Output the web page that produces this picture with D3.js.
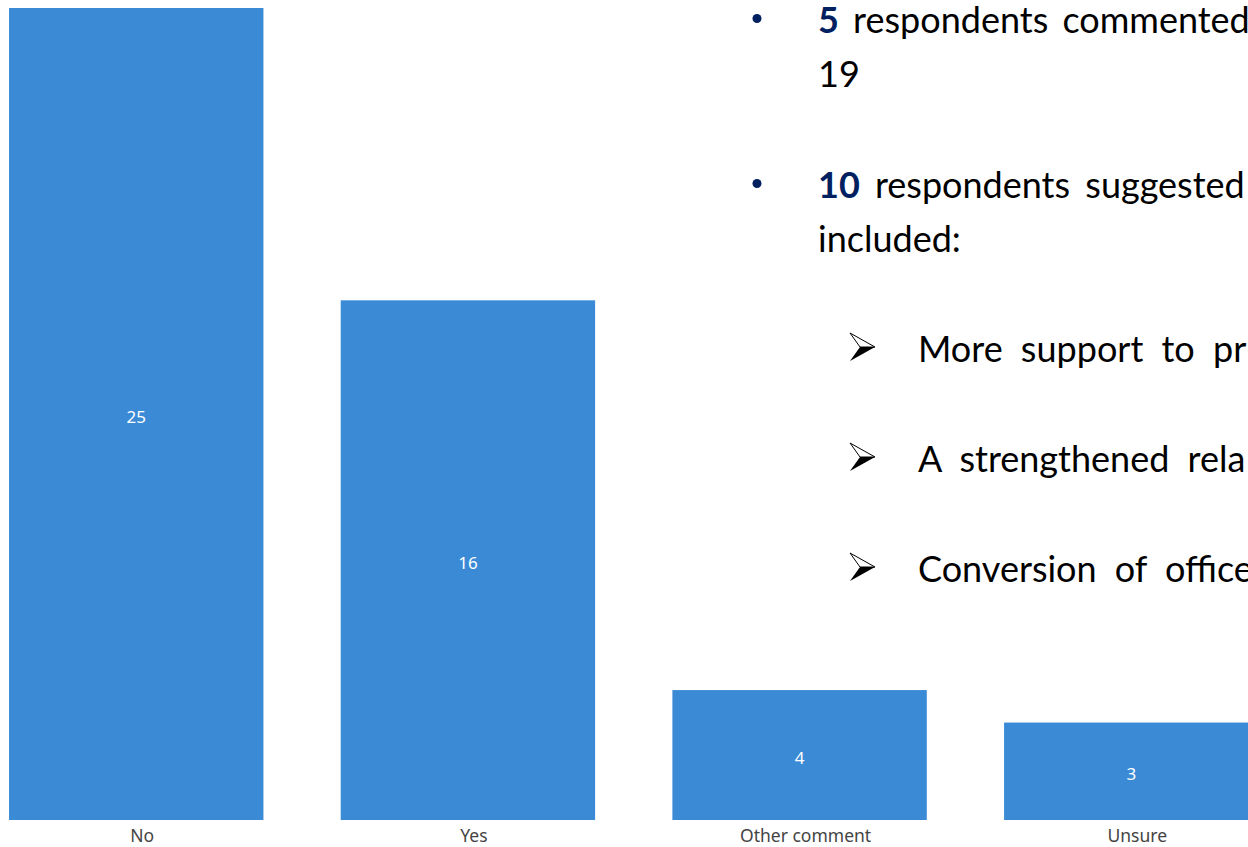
<!DOCTYPE html>
<html lang="en">
<head>
  <meta charset="UTF-8">
  <title>Responses</title>
  <script src="https://d3js.org/d3.v7.min.js"></script>
  <style>
    body {
      background: #ffffff;
      margin: 0;
      overflow: hidden;
    }
    .tick text {
      font-family: 'Noto Sans', 'Open Sans', sans-serif;
      font-size: 17.5px;
      fill: #444444;
    }
    .value {
      font-family: 'Noto Sans', 'Open Sans', sans-serif;
      font-size: 17px;
      fill: #ffffff;
      text-anchor: middle;
    }
    .note {
      font-family: Lato, 'Open Sans', sans-serif;
      font-size: 36px;
      fill: #000000;
    }
    .num {
      font-weight: bold;
      fill: #002060;
    }
  </style>
</head>
<body>
  <script>
    var categories = ["No", "Yes", "Other comment", "Unsure"];
    var counts = [25, 16, 4, 3];

    // overlay text lines from the slide (cut off at the right edge)
    var bulletLines = [
      { num: "5", text: " respondents commented", spacing: 5 },
      { num: "", text: "19", spacing: 0 },
      { num: "10", text: " respondents suggested", spacing: 6 },
      { num: "", text: "included:", spacing: 0 }
    ];
    var arrowLines = [
      "More support to pr",
      "A strengthened rela",
      "Conversion of office"
    ];

    var width = 1248, height = 847;

    var svg = d3.select("body").append("svg")
      .attr("width", width)
      .attr("height", height);

    var x = d3.scaleBand()
      .domain(categories)
      .range([-29.6, 1297.1])
      .paddingInner(0.233)
      .paddingOuter(0.1165);

    var y = d3.scaleLinear()
      .domain([0, 25])
      .range([820, 8]);

    var data = categories.map(function(c, i) { return { label: c, value: counts[i] }; });

    svg.selectAll(".bar")
      .data(data)
      .enter()
      .append("rect")
      .attr("class", "bar")
      .attr("x", function(d) { return x(d.label); })
      .attr("y", function(d) { return y(d.value); })
      .attr("width", x.bandwidth())
      .attr("height", function(d) { return y(0) - y(d.value); })
      .attr("fill", "#3a8ad6");

    svg.selectAll(".value")
      .data(data)
      .enter()
      .append("text")
      .attr("class", "value")
      .attr("x", function(d) { return x(d.label) + x.bandwidth() / 2; })
      .attr("y", function(d) { return (y(d.value) + y(0)) / 2 + 9; })
      .text(function(d) { return d.value; });

    var axis = svg.append("g")
      .attr("transform", "translate(6," + y(0) + ")")
      .call(d3.axisBottom(x).tickSize(0).tickPadding(10));
    axis.select(".domain").remove();

    // slide text overlay
    var lineY = [33, 87, 198, 252];
    var notes = svg.append("g");

    bulletLines.forEach(function(l, i) {
      if (l.num) {
        notes.append("circle")
          .attr("cx", 757)
          .attr("cy", lineY[i] - 14.5)
          .attr("r", 4.5)
          .attr("fill", "#002060");
      }
      var t = notes.append("text")
        .attr("class", "note")
        .attr("x", 818)
        .attr("y", lineY[i])
        .attr("word-spacing", l.spacing);
      if (l.num) t.append("tspan").attr("class", "num").text(l.num);
      t.append("tspan").text(l.text);
    });

    arrowLines.forEach(function(s, i) {
      var by = 362 + i * 110;
      var g = notes.append("g").attr("transform", "translate(850," + (by - 29) + ")");
      g.append("path")
        .attr("d", "M0,0 L25,14 L10,14 Z")
        .attr("fill", "#ffffff")
        .attr("stroke", "#000")
        .attr("stroke-width", 1);
      g.append("path")
        .attr("d", "M10,14 L25,14 L0,28 Z")
        .attr("fill", "#000");
      notes.append("text")
        .attr("class", "note")
        .attr("x", 918)
        .attr("y", by)
        .attr("word-spacing", 9)
        .text(s);
    });
  </script>
</body>
</html>
